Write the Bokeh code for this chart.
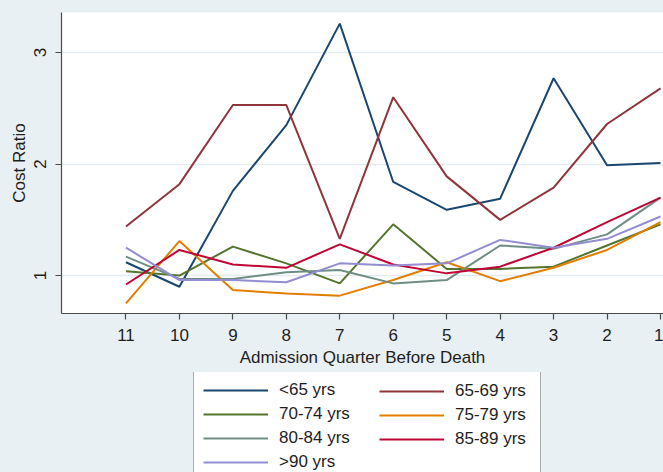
from bokeh.plotting import figure
from bokeh.layouts import column
from bokeh.models import Range1d, FixedTicker, Legend, LegendItem
from bokeh.embed import file_html
from bokeh.resources import INLINE

# ---- data ----
quarters = [11, 10, 9, 8, 7, 6, 5, 4, 3, 2, 1]
tick_values = [11, 10, 9, 8, 7, 6, 5, 4, 3, 2, 1]
y_ticks = [1, 2, 3]

lt65 = [1.12, 0.90, 1.76, 2.35, 3.26, 1.84, 1.59, 1.69, 2.77, 1.99, 2.01]
a65_69 = [1.44, 1.82, 2.53, 2.53, 1.33, 2.60, 1.89, 1.50, 1.79, 2.36, 2.68]
a70_74 = [1.04, 1.00, 1.26, 1.11, 0.93, 1.46, 1.06, 1.06, 1.08, 1.27, 1.46]
a75_79 = [0.75, 1.31, 0.87, 0.84, 0.82, 0.96, 1.12, 0.95, 1.07, 1.23, 1.48]
a80_84 = [1.17, 0.97, 0.97, 1.03, 1.05, 0.93, 0.96, 1.27, 1.24, 1.37, 1.70]
a85_89 = [0.92, 1.23, 1.10, 1.07, 1.28, 1.10, 1.02, 1.08, 1.25, 1.48, 1.70]
gt90 = [1.25, 0.96, 0.96, 0.94, 1.11, 1.09, 1.11, 1.32, 1.25, 1.33, 1.53]

labels = ["<65 yrs", "65-69 yrs", "70-74 yrs", "75-79 yrs", "80-84 yrs", "85-89 yrs", ">90 yrs"]
series = [lt65, a65_69, a70_74, a75_79, a80_84, a85_89, gt90]
colors = ["#1a476f", "#90353b", "#55752f", "#e37e00", "#6e8e84", "#c10534", "#938dd2"]

FONT = "Liberation Sans"
BG = "#e9f0f3"
W = 663
TOP_H = 372
FRAME_LEFT = 61

# ---------------- main chart ----------------
p = figure(width=W, height=TOP_H, output_backend="svg", toolbar_location=None,
           x_range=Range1d(12.206, 0.944), y_range=Range1d(0.66, 3.36),
           min_border_left=FRAME_LEFT, min_border_right=0, min_border_top=12,
           min_border_bottom=TOP_H - 313)

p.border_fill_color = BG
p.background_fill_color = "white"
p.outline_line_color = None

p.xgrid.grid_line_color = None
p.ygrid.grid_line_color = "#e3ebef"
p.ygrid.grid_line_width = 1.5

for ax in (p.xaxis[0], p.yaxis[0]):
    ax.axis_line_color = "#4a4a4a"
    ax.axis_line_width = 1.2
    ax.major_tick_line_color = "#4a4a4a"
    ax.major_tick_line_width = 1.2
    ax.major_tick_out = 6
    ax.major_tick_in = 0
    ax.minor_tick_line_color = None
    ax.major_label_text_font = FONT
    ax.major_label_text_font_size = "17px"
    ax.major_label_text_color = "#1e1e1e"
    ax.axis_label_text_font = FONT
    ax.axis_label_text_font_size = "17px"
    ax.axis_label_text_font_style = "normal"
    ax.axis_label_text_color = "#1e1e1e"

p.xaxis.ticker = FixedTicker(ticks=tick_values)
p.xaxis.axis_label = "Admission Quarter Before Death"
p.xaxis.major_label_standoff = 9
p.xaxis.axis_label_standoff = 4

p.yaxis.ticker = FixedTicker(ticks=y_ticks)
p.yaxis.axis_label = "Cost Ratio"
p.yaxis.major_label_orientation = "vertical"
p.yaxis.major_label_standoff = 9
p.yaxis.axis_label_standoff = 3

for ys, c in zip(series, colors):
    p.line(quarters, ys, line_color=c, line_width=2)

# ---------------- legend strip ----------------
LG_H = 472 - TOP_H
lg = figure(width=W, height=LG_H, output_backend="svg", toolbar_location=None,
            x_range=Range1d(0, 1), y_range=Range1d(100, 101),
            x_axis_location=None, y_axis_location=None,
            min_border_left=FRAME_LEFT, min_border_right=0, min_border_top=0, min_border_bottom=0)
lg.grid.visible = False
lg.outline_line_color = None
lg.border_fill_color = BG
lg.background_fill_color = BG

# same series, kept outside the legend strip's visible range; they only feed the legend keys
keys = [lg.line(quarters, ys, line_color=c, line_width=2) for ys, c in zip(series, colors)]

common = dict(orientation="vertical", padding=9, spacing=4, margin=0,
              glyph_width=65, glyph_height=20, label_height=20, label_standoff=11,
              label_text_font=FONT, label_text_font_size="17px", label_text_color="#1e1e1e")

LEG_H4 = 9 * 2 + 4 * 20 + 3 * 4
LEG_H3 = 9 * 2 + 3 * 20 + 2 * 4
leg1 = Legend(items=[LegendItem(label=labels[i], renderers=[keys[i]]) for i in (0, 2, 4, 6)],
              location=(193 - FRAME_LEFT, LG_H - LEG_H4), label_width=252,
              border_line_color="#555555", border_line_width=1,
              background_fill_color="white", background_fill_alpha=1.0, **common)
leg2 = Legend(items=[LegendItem(label=labels[i], renderers=[keys[i]]) for i in (1, 3, 5)],
              location=(370 - FRAME_LEFT, LG_H - LEG_H3), label_width=60,
              border_line_alpha=0.0, background_fill_alpha=0.0, **common)
lg.add_layout(leg1)
lg.add_layout(leg2)

layout = column(p, lg, spacing=0, styles={"background-color": BG})

template = """{% block postamble %}<style>html, body { background-color: #e9f0f3; }</style>{% endblock %}
"""
open("out.html", "w").write(file_html(layout, INLINE, template=template))
